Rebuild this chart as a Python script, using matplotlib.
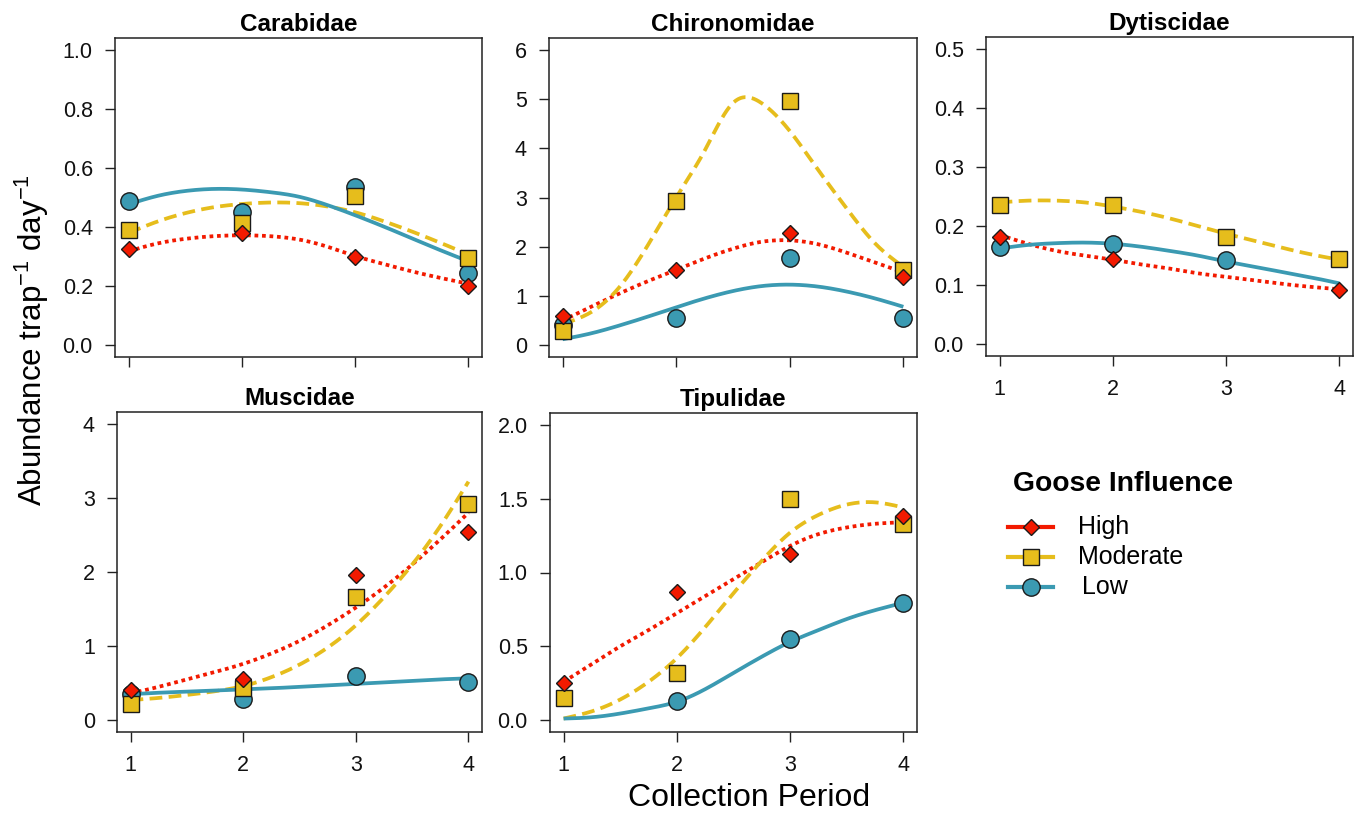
import numpy as np
import matplotlib
matplotlib.use("Agg")
import matplotlib.pyplot as plt
from matplotlib.lines import Line2D
from matplotlib.transforms import Affine2D

plt.rcParams['font.family'] = ['Liberation Sans', 'DejaVu Sans']

# ---------------- data ----------------
periods = [1, 2, 3, 4]
curve_x = [1, 1.25, 1.5, 1.75, 2, 2.25, 2.5, 2.75, 3, 3.25, 3.5, 3.75, 4]
families = ["Carabidae", "Chironomidae", "Dytiscidae", "Muscidae", "Tipulidae"]
levels = ["High", "Moderate", "Low"]

# observed means (abundance trap^-1 day^-1)
carabidae_high = [0.324, 0.381, 0.298, 0.201]
carabidae_moderate = [0.390, 0.415, 0.506, 0.295]
carabidae_low = [0.489, 0.452, 0.534, 0.244]
chironomidae_high = [0.60, 1.52, 2.27, 1.38]
chironomidae_moderate = [0.28, 2.93, 4.96, 1.52]
chironomidae_low = [0.40, 0.55, 1.77, 0.55]
dytiscidae_high = [0.181, 0.145, np.nan, 0.091]
dytiscidae_moderate = [0.236, 0.236, 0.181, 0.1435]
dytiscidae_low = [0.165, 0.170, 0.142, np.nan]
muscidae_high = [0.405, 0.555, 1.966, 2.544]
muscidae_moderate = [0.22, 0.44, 1.66, 2.92]
muscidae_low = [0.35, 0.28, 0.60, 0.51]
tipulidae_high = [0.25, 0.87, 1.125, 1.38]
tipulidae_moderate = [0.148, 0.318, 1.495, 1.33]
tipulidae_low = [np.nan, 0.132, 0.552, 0.795]

# fitted curves, read at curve_x
carabidae_high_fit = [0.318, 0.344, 0.360, 0.369, 0.372, 0.369, 0.358, 0.334, 0.302, 0.275, 0.250, 0.228, 0.208]
carabidae_moderate_fit = [0.380, 0.418, 0.447, 0.467, 0.478, 0.483, 0.481, 0.470, 0.450, 0.420, 0.385, 0.347, 0.307]
carabidae_low_fit = [0.477, 0.505, 0.522, 0.529, 0.527, 0.518, 0.503, 0.475, 0.440, 0.402, 0.362, 0.322, 0.284]
chironomidae_high_fit = [0.50, 0.78, 1.05, 1.30, 1.53, 1.76, 1.96, 2.10, 2.13, 2.05, 1.88, 1.68, 1.48]
chironomidae_moderate_fit = [0.43, 0.67, 1.18, 2.03, 3.00, 3.95, 4.92, 4.92, 4.35, 3.56, 2.78, 2.07, 1.59]
chironomidae_low_fit = [0.12, 0.24, 0.40, 0.58, 0.77, 0.95, 1.10, 1.20, 1.23, 1.19, 1.09, 0.95, 0.78]
dytiscidae_high_fit = [0.185, 0.170, 0.158, 0.150, 0.143, 0.135, 0.128, 0.120, 0.114, 0.108, 0.102, 0.097, 0.093]
dytiscidae_moderate_fit = [0.240, 0.243, 0.243, 0.240, 0.233, 0.224, 0.213, 0.200, 0.187, 0.175, 0.163, 0.152, 0.143]
dytiscidae_low_fit = [0.162, 0.168, 0.171, 0.172, 0.170, 0.165, 0.158, 0.150, 0.140, 0.131, 0.122, 0.113, 0.103]
muscidae_high_fit = [0.36, 0.45, 0.55, 0.65, 0.76, 0.90, 1.07, 1.28, 1.52, 1.79, 2.10, 2.44, 2.80]
muscidae_moderate_fit = [0.27, 0.30, 0.34, 0.39, 0.46, 0.58, 0.75, 0.98, 1.28, 1.66, 2.10, 2.62, 3.22]
muscidae_low_fit = [0.35, 0.37, 0.385, 0.40, 0.415, 0.43, 0.45, 0.47, 0.49, 0.51, 0.53, 0.55, 0.565]
tipulidae_high_fit = [0.26, 0.38, 0.50, 0.61, 0.725, 0.84, 0.955, 1.07, 1.18, 1.26, 1.305, 1.33, 1.34]
tipulidae_moderate_fit = [0.011, 0.06, 0.14, 0.26, 0.42, 0.63, 0.86, 1.08, 1.27, 1.39, 1.46, 1.475, 1.44]
tipulidae_low_fit = [0.011, 0.02, 0.045, 0.08, 0.125, 0.21, 0.32, 0.43, 0.53, 0.61, 0.685, 0.745, 0.795]

carabidae_yticks = [0.0, 0.2, 0.4, 0.6, 0.8, 1.0]
chironomidae_yticks = [0, 1, 2, 3, 4, 5, 6]
dytiscidae_yticks = [0.0, 0.1, 0.2, 0.3, 0.4, 0.5]
muscidae_yticks = [0, 1, 2, 3, 4]
tipulidae_yticks = [0.0, 0.5, 1.0, 1.5, 2.0]
carabidae_ylabels = ["0.0", "0.2", "0.4", "0.6", "0.8", "1.0"]
chironomidae_ylabels = ["0", "1", "2", "3", "4", "5", "6"]
dytiscidae_ylabels = ["0.0", "0.1", "0.2", "0.3", "0.4", "0.5"]
muscidae_ylabels = ["0", "1", "2", "3", "4"]
tipulidae_ylabels = ["0.0", "0.5", "1.0", "1.5", "2.0"]

# ---------------- helpers ----------------
def natural_spline(x, y, n=300):
    x = np.asarray(x, float)
    y = np.asarray(y, float)
    k = len(x)
    h = np.diff(x)
    A = np.zeros((k, k))
    b = np.zeros(k)
    A[0, 0] = A[-1, -1] = 1
    for i in range(1, k - 1):
        A[i, i - 1] = h[i - 1]
        A[i, i] = 2 * (h[i - 1] + h[i])
        A[i, i + 1] = h[i]
        b[i] = 6 * ((y[i + 1] - y[i]) / h[i] - (y[i] - y[i - 1]) / h[i - 1])
    M = np.linalg.solve(A, b)
    xs = np.linspace(x[0], x[-1], n)
    idx = np.clip(np.searchsorted(x, xs) - 1, 0, k - 2)
    x0 = x[idx]
    x1 = x[idx + 1]
    hh = x1 - x0
    t0 = x1 - xs
    t1 = xs - x0
    ys = (M[idx] * t0 ** 3 / (6 * hh) + M[idx + 1] * t1 ** 3 / (6 * hh)
          + (y[idx] / hh - M[idx] * hh / 6) * t0 + (y[idx + 1] / hh - M[idx + 1] * hh / 6) * t1)
    return xs, ys

RED = "#F21A00"
YEL = "#E6BD1C"
BLUE = "#3B9AB2"
LW = 2.7
styles = {
    "High": dict(color=RED, ls=(0, (1.0, 1.0)), marker="D", ms=8.3, z=5),
    "Moderate": dict(color=YEL, ls=(0, (3.4, 1.7)), marker="s", ms=12, z=4),
    "Low": dict(color=BLUE, ls="-", marker="o", ms=12.5, z=3),
}

W, H = 1360, 817
fig = plt.figure(figsize=(W / 100, H / 100), dpi=100)

def px_axes(l, t, r, b):
    return fig.add_axes([l / W, 1 - b / H, (r - l) / W, (b - t) / H])

boxes = [(115, 38, 482, 357), (549, 38, 917, 357), (986, 37, 1353, 356),
         (117, 412, 482, 732), (550, 413, 917, 732)]

points = {
    "Carabidae": (carabidae_high, carabidae_moderate, carabidae_low),
    "Chironomidae": (chironomidae_high, chironomidae_moderate, chironomidae_low),
    "Dytiscidae": (dytiscidae_high, dytiscidae_moderate, dytiscidae_low),
    "Muscidae": (muscidae_high, muscidae_moderate, muscidae_low),
    "Tipulidae": (tipulidae_high, tipulidae_moderate, tipulidae_low),
}
fits = {
    "Carabidae": (carabidae_high_fit, carabidae_moderate_fit, carabidae_low_fit),
    "Chironomidae": (chironomidae_high_fit, chironomidae_moderate_fit, chironomidae_low_fit),
    "Dytiscidae": (dytiscidae_high_fit, dytiscidae_moderate_fit, dytiscidae_low_fit),
    "Muscidae": (muscidae_high_fit, muscidae_moderate_fit, muscidae_low_fit),
    "Tipulidae": (tipulidae_high_fit, tipulidae_moderate_fit, tipulidae_low_fit),
}
yticks = {
    "Carabidae": (carabidae_yticks, carabidae_ylabels),
    "Chironomidae": (chironomidae_yticks, chironomidae_ylabels),
    "Dytiscidae": (dytiscidae_yticks, dytiscidae_ylabels),
    "Muscidae": (muscidae_yticks, muscidae_ylabels),
    "Tipulidae": (tipulidae_yticks, tipulidae_ylabels),
}
show_xlabels = {"Carabidae": False, "Chironomidae": False, "Dytiscidae": True,
                "Muscidae": True, "Tipulidae": True}

for fam, box in zip(families, boxes):
    ax = px_axes(*box)
    for lev, yfit in zip(levels, fits[fam]):
        st = styles[lev]
        xs, ys = natural_spline(curve_x, yfit)
        ax.plot(xs, ys, color=st["color"], ls=st["ls"], lw=LW, zorder=2,
                solid_capstyle="butt", dash_capstyle="butt")
    for lev, yp in zip(["Low", "Moderate", "High"], points[fam][::-1]):
        st = styles[lev]
        ax.plot(periods, yp, ls="none", marker=st["marker"], ms=st["ms"],
                mfc=st["color"], mec="#1a1a1a", mew=1.0, zorder=st["z"])
    tk, tl = yticks[fam]
    ax.set_xlim(1 - 0.12, 4 + 0.12)
    ymax = tk[-1]
    ax.set_ylim(-0.04 * ymax, ymax * 1.04)
    ax.set_yticks(tk)
    ax.set_yticklabels(tl)
    ax.set_xticks(periods)
    if show_xlabels[fam]:
        ax.set_xticklabels([str(p) for p in periods])
    else:
        ax.set_xticklabels([])
    ax.tick_params(direction="out", length=7.5, width=1.0, labelsize=15.5,
                   color="#222222", labelcolor="#111111")
    ax.tick_params(axis="x", pad=9)
    ax.tick_params(axis="y", pad=8.5)
    for sp in ax.spines.values():
        sp.set_linewidth(1.1)
        sp.set_color("#222222")
    ax.set_title(fam, fontsize=17.5, fontweight="bold", pad=5)

fig.text(32 / W, 1 - 340 / H, r"Abundance trap$^{\mathregular{-1}}$ day$^{\mathregular{-1}}$",
         rotation=90, ha="center", va="center", fontsize=22.5)
fig.text(749 / W, 1 - 798 / H, "Collection Period", ha="center", va="center", fontsize=23)

# ---------------- legend ----------------
pxT = Affine2D().scale(1 / W, -1 / H).translate(0, 1) + fig.transFigure
fig.text(1013, 484, "Goose Influence", transform=pxT, fontsize=20.3,
         fontweight="bold", ha="left", va="center")
leg_rows = [("High", 527, 1078), ("Moderate", 557, 1078), ("Low", 587, 1082)]
for lev, yy, tx in leg_rows:
    st = styles[lev]
    ln = Line2D([1008, 1031, 1053], [yy, yy, yy], transform=pxT, color=st["color"],
                lw=3, marker=st["marker"], ms=st["ms"], markevery=[1],
                mfc=st["color"], mec="#1a1a1a", mew=1.0)
    fig.add_artist(ln)
    fig.text(tx, yy, lev, transform=pxT, fontsize=18, ha="left", va="center")

fig.savefig("out.png", dpi=100)
